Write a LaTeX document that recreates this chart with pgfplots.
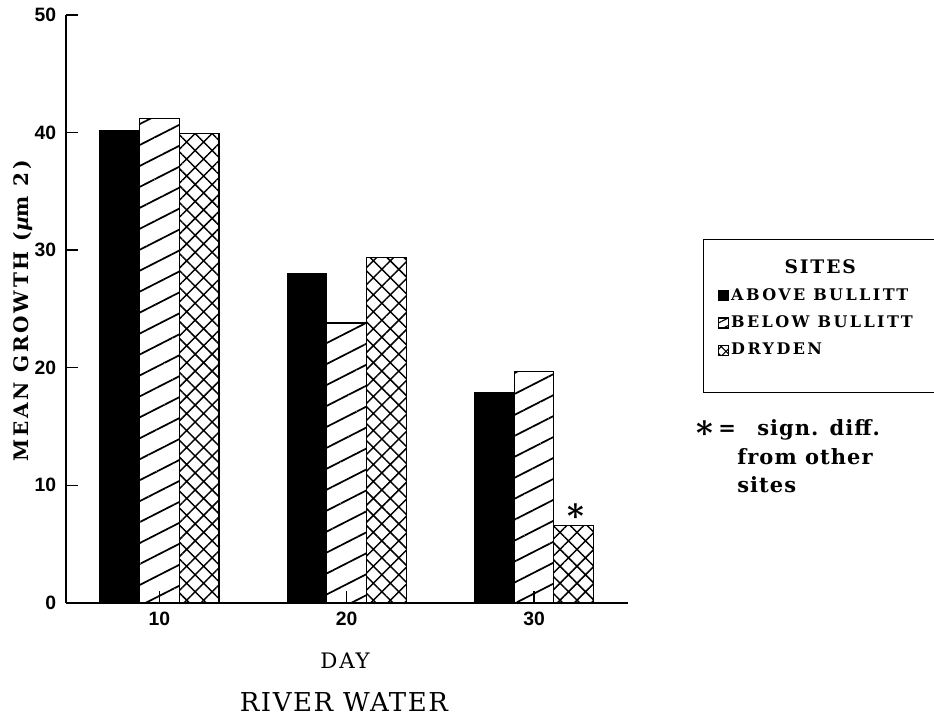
\documentclass[border=0pt]{standalone}
\usepackage{fontspec}
\setmainfont{DejaVu Serif}
\newfontfamily\ticksans{Liberation Sans}
\usepackage{pgfplots}
\pgfplotsset{compat=1.18}
\usetikzlibrary{patterns.meta}

\begin{document}
\begin{tikzpicture}
\useasboundingbox (0,0) rectangle (700.5pt,539.25pt);
\begin{axis}[
  at={(49.3pt,87.2pt)}, anchor=south west,
  scale only axis, width=421.5pt, height=440.8pt,
  xmin=5, xmax=35, ymin=0, ymax=50,
  axis lines*=left,
  axis line style={line width=1.2pt},
  axis on top, clip=false,
  xtick={10,20,30}, ytick={0,10,20,30,40,50},
  tick align=inside, major tick length=9pt,
  tick style={line width=1pt, black},
  /pgf/number format/assume math mode=true,
  ticklabel style={font=\ticksans\bfseries\fontsize{14.5}{14.5}\selectfont},
  yticklabel style={inner sep=0pt, xshift=-7pt},
  xticklabel style={inner sep=0pt, yshift=-7pt},
  xlabel={DAY},
  xlabel style={at={(axis description cs:0.497,-0.0992)}, anchor=center,
    font=\fontsize{16}{16}\selectfont\addfontfeature{LetterSpace=8}},
  ylabel={MEAN GROWTH ({\itshape µ}m 2)},
  ylabel style={at={(axis description cs:-0.076,0.4963)}, anchor=center,
    font=\bfseries\fontsize{15}{15}\selectfont\addfontfeature{LetterSpace=14}},
  legend cell align=left,
  legend style={at={(axis description cs:1.1335,0.619)}, anchor=north west,
    draw=black, line width=1.1pt, inner xsep=11pt, inner ysep=15pt,
    row sep=10pt, column sep=1.5pt, nodes={inner sep=0pt},
    font=\bfseries\fontsize{12}{12}\selectfont\addfontfeature{LetterSpace=15}},
]
\addplot[ybar, bar width=29.8pt, bar shift=-29.8pt, forget plot,
  fill=black, draw=black, line width=0.8pt]
  coordinates {(10,40.2) (20,28.0) (30,17.9)};
\addplot[ybar, bar width=29.8pt, bar shift=0pt, forget plot,
  fill=white, draw=black, line width=0.8pt,
  postaction={pattern={Lines[angle=27,distance=14pt,line width=1.3pt]}}]
  coordinates {(10,41.2) (20,23.8) (30,19.7)};
\addplot[ybar, bar width=29.8pt, bar shift=29.8pt, forget plot,
  fill=white, draw=black, line width=0.8pt,
  postaction={pattern={Hatch[angle=45,distance=9pt,line width=1.1pt]}}]
  coordinates {(10,39.9) (20,29.4) (30,6.6)};

\addlegendimage{empty legend}
\addlegendentry{\hspace{40pt}{\fontsize{14}{14}\selectfont\addfontfeature{LetterSpace=10}SITES}}
\addlegendimage{legend image code/.code={\draw[fill=black,line width=0.8pt] (0pt,-3.75pt) rectangle (7.5pt,3.75pt);}}
\addlegendentry{ABOVE BULLITT}
\addlegendimage{legend image code/.code={\draw[fill=white,line width=0.8pt,postaction={pattern={Lines[angle=27,distance=5pt,line width=0.8pt]}}] (0pt,-3.75pt) rectangle (7.5pt,3.75pt);}}
\addlegendentry{BELOW BULLITT\rule{9pt}{0pt}}
\addlegendimage{legend image code/.code={\draw[fill=white,line width=0.8pt,postaction={pattern={Hatch[angle=45,distance=5pt,line width=0.8pt]}}] (0pt,-3.75pt) rectangle (7.5pt,3.75pt);}}
\addlegendentry{DRYDEN}
\addlegendimage{empty legend}
\addlegendentry{}

\node[anchor=base, font=\bfseries\fontsize{24}{24}\selectfont]
  at ([xshift=31.7pt]axis cs:30,6.4) {*};
\node[anchor=center, font=\fontsize{19.5}{19.5}\selectfont\addfontfeature{LetterSpace=6}]
  at (axis description cs:0.495,-0.169) {RIVER WATER};
\end{axis}
\begin{scope}[x=0.75pt,y=0.75pt]
\node[anchor=base, font=\bfseries\fontsize{24}{24}\selectfont] at (705,719-444) {*};
\node[anchor=base west, inner sep=0pt, font=\bfseries\fontsize{15.75}{15.75}\selectfont] at (718,719-435) {=};
\node[anchor=base west, inner sep=0pt, font=\bfseries\fontsize{15.75}{15.75}\selectfont\addfontfeature{LetterSpace=5}] at (757,719-435) {sign. diff.};
\node[anchor=base west, inner sep=0pt, font=\bfseries\fontsize{15.75}{15.75}\selectfont\addfontfeature{LetterSpace=5}] at (737,719-464) {from other};
\node[anchor=base west, inner sep=0pt, font=\bfseries\fontsize{15.75}{15.75}\selectfont\addfontfeature{LetterSpace=5}] at (737,719-492) {sites};
\end{scope}
\end{tikzpicture}
\end{document}
